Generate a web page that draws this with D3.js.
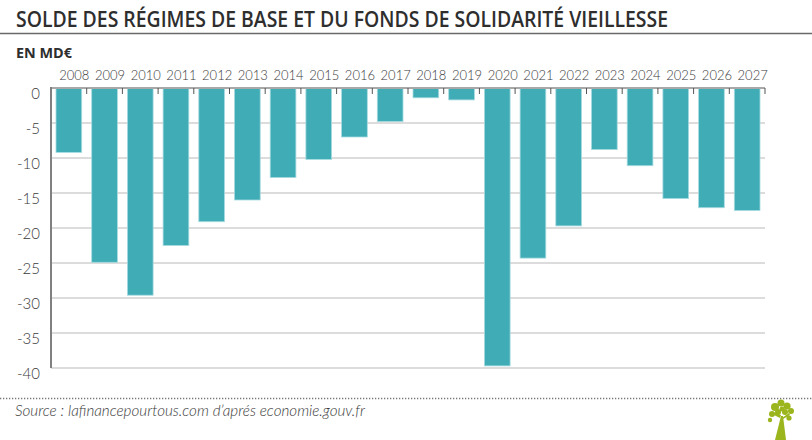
<!DOCTYPE html>
<html>
<head>
<meta charset="utf-8">
<script src="https://cdn.jsdelivr.net/npm/d3@7"></script>
<style>
  html, body { margin: 0; padding: 0; background: #fff; }
  svg { display: block; }
</style>
</head>
<body>
<svg id="chart" width="812" height="440"></svg>
<script>
const years = ["2008","2009","2010","2011","2012","2013","2014","2015","2016","2017",
               "2018","2019","2020","2021","2022","2023","2024","2025","2026","2027"];
const soldes = [-9.2, -24.9, -29.6, -22.5, -19.1, -16.0, -12.8, -10.2, -7.0, -4.8,
                -1.4, -1.7, -39.7, -24.3, -19.7, -8.8, -11.1, -15.8, -17.1, -17.5];
const yTicks = [0, -5, -10, -15, -20, -25, -30, -35, -40];

const titleText = "SOLDE DES RÉGIMES DE BASE ET DU FONDS DE SOLIDARITÉ VIEILLESSE";
const unitText = "EN MD€";
const sourceText = "Source : lafinancepourtous.com d’aprés economie.gouv.fr";

const svg = d3.select("#chart");
const plotLeft = 51, plotRight = 765, plotTop = 88, plotBottom = 368;

const x = d3.scaleBand().domain(years).range([plotLeft, plotRight])
  .paddingInner(0.28).paddingOuter(0.14);
const xb = d3.scaleBand().domain(years).range([plotLeft, plotRight]).padding(0);
const y = d3.scaleLinear().domain([0, -40]).range([plotTop, plotBottom]);

// Title
svg.append("text")
  .attr("x", 16).attr("y", 27)
  .attr("font-family", "'Open Sans', sans-serif")
  .attr("font-weight", 600)
  .attr("font-size", 21)
  .attr("fill", "#2e2e2e")
  .attr("textLength", 652).attr("lengthAdjust", "spacingAndGlyphs")
  .text(titleText);

svg.append("line").attr("x1", 0).attr("x2", 812).attr("y1", 33.5).attr("y2", 33.5)
  .attr("stroke", "#6a6a6a").attr("stroke-width", 1.5);

svg.append("text")
  .attr("x", 16).attr("y", 58)
  .attr("font-family", "'Open Sans', sans-serif")
  .attr("font-weight", 700)
  .attr("font-size", 15)
  .attr("fill", "#2e2e2e")
  .attr("textLength", 56).attr("lengthAdjust", "spacingAndGlyphs")
  .text(unitText);

// Gridlines
svg.append("g").selectAll("line").data(yTicks.filter(d => d !== 0)).join("line")
  .attr("x1", plotLeft).attr("x2", plotRight)
  .attr("y1", d => y(d)).attr("y2", d => y(d))
  .attr("stroke", "#dcdcdc").attr("stroke-width", 2);

// Y tick labels
svg.append("g").selectAll("text").data(yTicks).join("text")
  .attr("x", 40).attr("y", d => y(d) + 5.5)
  .attr("dy", "0.35em")
  .attr("text-anchor", "end")
  .attr("font-family", "Lato, sans-serif")
  .attr("font-weight", 300)
  .attr("font-size", 15)
  .attr("fill", "#3a3a3a")
  .text(d => d === 0 ? "0" : "-" + Math.abs(d));

// Bars
svg.append("g").selectAll("rect").data(years).join("rect")
  .attr("x", d => x(d))
  .attr("width", x.bandwidth())
  .attr("y", y(0))
  .attr("height", (d, i) => y(soldes[i]) - y(0))
  .attr("fill", "#40acb6")
  .attr("stroke", "#a6dbe0")
  .attr("stroke-width", 0.8);

// Zero line
svg.append("line").attr("x1", plotLeft).attr("x2", plotRight)
  .attr("y1", y(0)).attr("y2", y(0))
  .attr("stroke", "#a8a8a8").attr("stroke-width", 2);

// Tick marks at band boundaries
svg.append("g").selectAll("line").data(years).join("line")
  .attr("x1", d => xb(d) + xb.bandwidth()).attr("x2", d => xb(d) + xb.bandwidth())
  .attr("y1", y(0)).attr("y2", y(0) + 6)
  .attr("stroke", "#555").attr("stroke-width", 1);

// Y axis line
svg.append("line").attr("x1", plotLeft).attr("x2", plotLeft)
  .attr("y1", y(0) - 1).attr("y2", y(-40))
  .attr("stroke", "#808080").attr("stroke-width", 2);

// Year labels
svg.append("g").selectAll("text").data(years).join("text")
  .attr("x", d => xb(d) + xb.bandwidth() / 2 + 5.5)
  .attr("y", 80)
  .attr("text-anchor", "middle")
  .attr("font-family", "Lato, sans-serif")
  .attr("font-weight", 300)
  .attr("font-size", 13)
  .attr("fill", "#3a3a3a")
  .text(d => d);

// Footer dotted line
svg.append("line").attr("x1", 0).attr("x2", 812).attr("y1", 398.5).attr("y2", 398.5)
  .attr("stroke", "#777").attr("stroke-width", 1.3)
  .attr("stroke-dasharray", "1.3 1.7");

svg.append("text")
  .attr("x", 15).attr("y", 416)
  .attr("font-family", "Lato, sans-serif")
  .attr("font-style", "italic")
  .attr("font-weight", 300)
  .attr("font-size", 15)
  .attr("fill", "#3a3a3a")
  .attr("textLength", 350).attr("lengthAdjust", "spacingAndGlyphs")
  .text(sourceText);

// Tree logo
const logo = svg.append("g").attr("fill", "#9bb51c");
logo.append("path")
  .attr("d", "M775,440 L779,424 L781,416 L783,416 L784,424 L786,440 Z");
[[775,407,4],[781,403,3.5],[787,406,3.6],[791,411,3],[772,414,3],[778,412,3],[785,412,3],[789,418,2.6],[770,420,2.2],[782,409,2.5]]
  .forEach(c => logo.append("circle").attr("cx", c[0]).attr("cy", c[1]).attr("r", c[2]));
logo.append("path").attr("d", "M780,418 L772,414 L773,412 L781,415 Z");
logo.append("path").attr("d", "M782,418 L789,413 L790,415 L783,419 Z");
</script>
</body>
</html>
